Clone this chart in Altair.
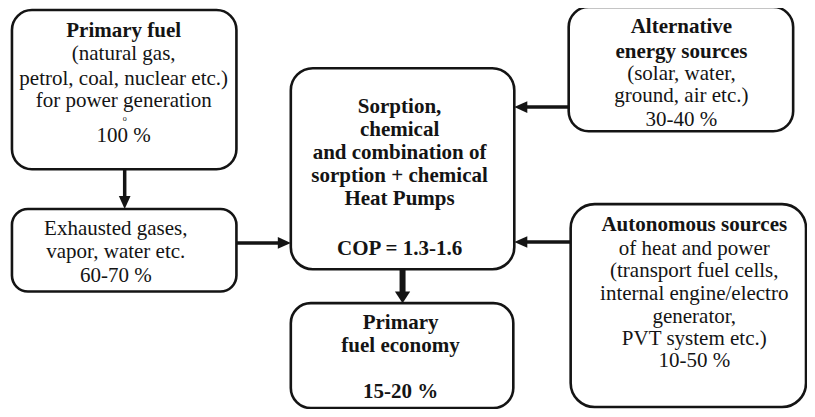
import altair as alt
import pandas as pd

# ---- boxes (picture coordinates, y downward) ----
box_name = ["primary", "exhaust", "heatpump", "economy", "alternative", "autonomous"]
box_x1 = [10, 10, 292, 292, 573, 575]
box_x2 = [237, 237, 518, 517, 800, 813]
box_y1 = [3, 208, 63, 305, 0, 203]
box_y2 = [167, 293, 270, 413, 128, 412]
box_r = [20, 16, 22, 20, 20, 24]

# ---- arrows: start -> tip ----
arr_x1 = [124, 237, 573, 575, 405]
arr_y1 = [167, 243, 103, 242, 270]
arr_x2 = [124, 292, 518, 518, 405]
arr_y2 = [208, 243, 103, 242, 305]
arr_dir = ["d", "r", "l", "l", "D"]

# ---- text lines ----
txt = [
    "Primary fuel", "(natural gas,", "petrol, coal, nuclear etc.)", "for power generation", "o", "100 %",
    "Exhausted gases,", "vapor, water etc.", "60-70 %",
    "Sorption,", "chemical", "and combination of", "sorption + chemical", "Heat Pumps", "COP = 1.3-1.6",
    "Primary", "fuel economy", "15-20 %",
    "Alternative", "energy sources", "(solar, water,", "ground, air etc.)", "30-40 %",
    "Autonomous sources", "of heat and power", "(transport fuel cells,", "internal engine/electro",
    "generator,", "PVT system etc.)", "10-50 %",
]
txt_x = [123, 123, 123, 123, 124, 123,
         115, 115, 115,
         402, 402, 402, 402, 402, 402,
         403, 403, 403,
         687, 687, 687, 687, 687,
         700, 700, 700, 700, 700, 700, 700]
txt_y = [31, 55, 80, 103, 117, 139,
         235, 258, 283,
         109, 133, 157, 180, 204, 255,
         332, 355, 403,
         27, 52, 75, 98, 123,
         231, 255, 278, 302, 325, 348, 371]
txt_bold = [1, 0, 0, 0, 0, 0,
            0, 0, 0,
            1, 1, 1, 1, 1, 1,
            1, 1, 1,
            1, 1, 0, 0, 0,
            1, 0, 0, 0, 0, 0, 0]
txt_size = [21, 21, 21, 21, 8, 21,
            21, 21, 21,
            21, 21, 21, 21, 21, 21,
            21, 21, 21,
            21, 21, 21, 21, 21,
            21, 21, 21, 21, 21, 21, 21]

W, H = 799, 401
XD = [6, 814]
YD = [1, 414]
xs = alt.Scale(domain=XD, nice=False, zero=False)
ys = alt.Scale(domain=YD, reverse=True, nice=False, zero=False)
INK = "#141414"
FONT = "Liberation Serif"

boxes = pd.DataFrame(dict(name=box_name, x1=box_x1, x2=box_x2, y1=box_y1, y2=box_y2, r=box_r))
layers = []
for i in range(len(boxes)):
    layers.append(
        alt.Chart(boxes.iloc[[i]]).mark_rect(
            cornerRadius=int(boxes.r.iloc[i]), fill="white", stroke=INK, strokeWidth=2.6
        ).encode(
            x=alt.X("x1:Q", scale=xs, axis=None), x2="x2:Q",
            y=alt.Y("y1:Q", scale=ys, axis=None), y2="y2:Q",
        )
    )

arrows = pd.DataFrame(dict(x1=arr_x1, y1=arr_y1, x2=arr_x2, y2=arr_y2, d=arr_dir))
# shaft end shortened a bit so it hides under the head
def shaft_end(row):
    back = 6
    if row.d in ("d", "D"):
        return row.x2, row.y2 - back
    if row.d == "r":
        return row.x2 - back, row.y2
    return row.x2 + back, row.y2

ends = arrows.apply(shaft_end, axis=1, result_type="expand")
arrows["sx"], arrows["sy"] = ends[0], ends[1]

thin = arrows[arrows.d != "D"]
thick = arrows[arrows.d == "D"]
for df, sw in ((thin, 3.5), (thick, 6)):
    layers.append(
        alt.Chart(df).mark_rule(strokeWidth=sw, color=INK).encode(
            x=alt.X("x1:Q", scale=xs, axis=None), x2="sx:Q",
            y=alt.Y("y1:Q", scale=ys, axis=None), y2="sy:Q",
        )
    )

shapes = {
    "r": ("M0,0L-2,-0.9L-2,0.9Z", 169),
    "l": ("M0,0L2,-0.9L2,0.9Z", 169),
    "d": ("M0,0L-0.9,-2L0.9,-2Z", 169),
    "D": ("M0,0L-1.25,-1.9L1.25,-1.9Z", 150),
}
for d, (path, size) in shapes.items():
    df = arrows[arrows.d == d]
    if len(df) == 0:
        continue
    layers.append(
        alt.Chart(df).mark_point(shape=path, size=size, filled=True, color=INK, opacity=1, strokeWidth=0).encode(
            x=alt.X("x2:Q", scale=xs, axis=None),
            y=alt.Y("y2:Q", scale=ys, axis=None),
        )
    )

texts = pd.DataFrame(dict(t=txt, x=txt_x, y=txt_y, b=txt_bold, s=txt_size))
for b, weight in ((1, "bold"), (0, "normal")):
    df = texts[texts.b == b]
    layers.append(
        alt.Chart(df).mark_text(font=FONT, fontWeight=weight, align="center", baseline="alphabetic", color=INK).encode(
            x=alt.X("x:Q", scale=xs, axis=None),
            y=alt.Y("y:Q", scale=ys, axis=None),
            text="t:N",
            size=alt.Size("s:Q", scale=None, legend=None),
        )
    )

chart = alt.layer(*layers).properties(
    width=W, height=H, padding=0, autosize="none", background="white"
).configure_view(stroke=None)

chart.save("out.html", embed_options={"renderer": "svg", "actions": False})
